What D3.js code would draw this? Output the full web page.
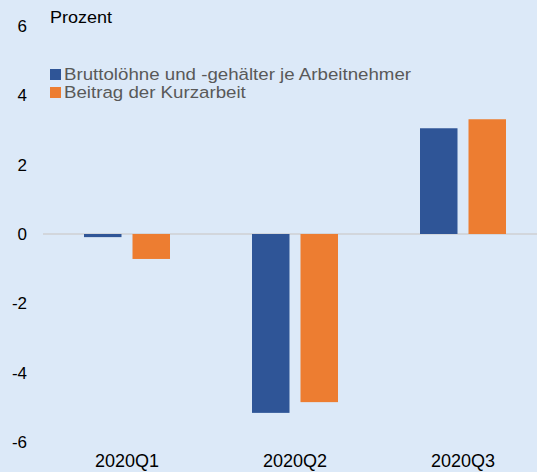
<script src="https://d3js.org/d3.v7.min.js"></script>
<style>
  body { margin: 0; background: #dce9f8; }
  svg { display: block; font-family: "Liberation Sans", Arial, sans-serif; }
</style>
<svg id="chart"></svg>
<script>
    const categories = ['2020Q1', '2020Q2', '2020Q3']
    const seriesNames = ['Bruttolöhne und -gehälter je Arbeitnehmer', 'Beitrag der Kurzarbeit']
    const lohn = [-0.09, -5.16, 3.05]
    const kurzarbeit = [-0.72, -4.85, 3.31]
    const yTicks = [-6, -4, -2, 0, 2, 4, 6]
    const colors = ['#2f5597', '#ed7d31']

    const width = 537, height = 472
    const font = '"Liberation Sans", Arial, sans-serif'

    let svg = d3.select('#chart')
        .attr('width', width)
        .attr('height', height)

    svg.append('rect')
        .attr('width', width)
        .attr('height', height)
        .attr('fill', '#dce9f8')

    let y = d3.scaleLinear().domain([-6, 6]).range([442, 26])
    let x0 = d3.scaleBand().domain(categories).range([43, 547])
    let x1 = d3.scaleBand().domain([0, 1])
        .range([41, 127])
        .paddingInner(0.227)

    // y axis labels (plain hyphen for negatives)
    let yAxis = d3.axisLeft(y)
        .tickValues(yTicks)
        .tickFormat(d => String(d))
        .tickSize(0)
        .tickPadding(0)
    let gy = svg.append('g')
        .attr('transform', 'translate(27,0)')
        .call(yAxis)
    gy.select('.domain').remove()
    gy.selectAll('text')
        .style('font-size', '17px')
        .attr('fill', '#000')
        .attr('font-family', font)

    // zero line
    svg.append('line')
        .attr('x1', 43)
        .attr('x2', width)
        .attr('y1', y(0))
        .attr('y2', y(0))
        .attr('stroke', '#d2d6dc')
        .attr('stroke-width', 2)

    // bars
    let rows = categories.map((c, i) => ({ cat: c, vals: [lohn[i], kurzarbeit[i]] }))
    let groups = svg.selectAll('g.grp')
        .data(rows)
        .enter().append('g')
        .attr('class', 'grp')
        .attr('transform', d => 'translate(' + x0(d.cat) + ',0)')

    groups.selectAll('rect')
        .data(d => d.vals.map((v, k) => ({ v: v, k: k })))
        .enter().append('rect')
        .attr('x', d => x1(d.k))
        .attr('width', x1.bandwidth())
        .attr('y', d => y(Math.max(0, d.v)))
        .attr('height', d => Math.abs(y(d.v) - y(0)))
        .attr('fill', d => colors[d.k])

    // x axis labels
    let xAxis = d3.axisBottom(x0).tickSize(0).tickPadding(0)
    let gx = svg.append('g')
        .attr('transform', 'translate(0,467)')
        .call(xAxis)
    gx.select('.domain').remove()
    gx.selectAll('text')
        .attr('dy', null)
        .style('font-size', '18px')
        .attr('fill', '#000')
        .attr('font-family', font)

    // title
    svg.append('text')
        .attr('transform', 'translate(50,23) scale(1.06,1)')
        .style('font-size', '17px')
        .text('Prozent')

    // legend
    let legend = svg.selectAll('g.leg')
        .data(seriesNames)
        .enter().append('g')
        .attr('class', 'leg')
        .attr('transform', (d, i) => 'translate(50,' + (69 + i * 18) + ')')
    legend.append('rect')
        .attr('width', 11)
        .attr('height', 11)
        .attr('fill', (d, i) => colors[i])
    legend.append('text')
        .attr('transform', 'translate(14,11) scale(1.1,1)')
        .style('font-size', '17px')
        .attr('fill', '#595959')
        .text(d => d)
</script>
